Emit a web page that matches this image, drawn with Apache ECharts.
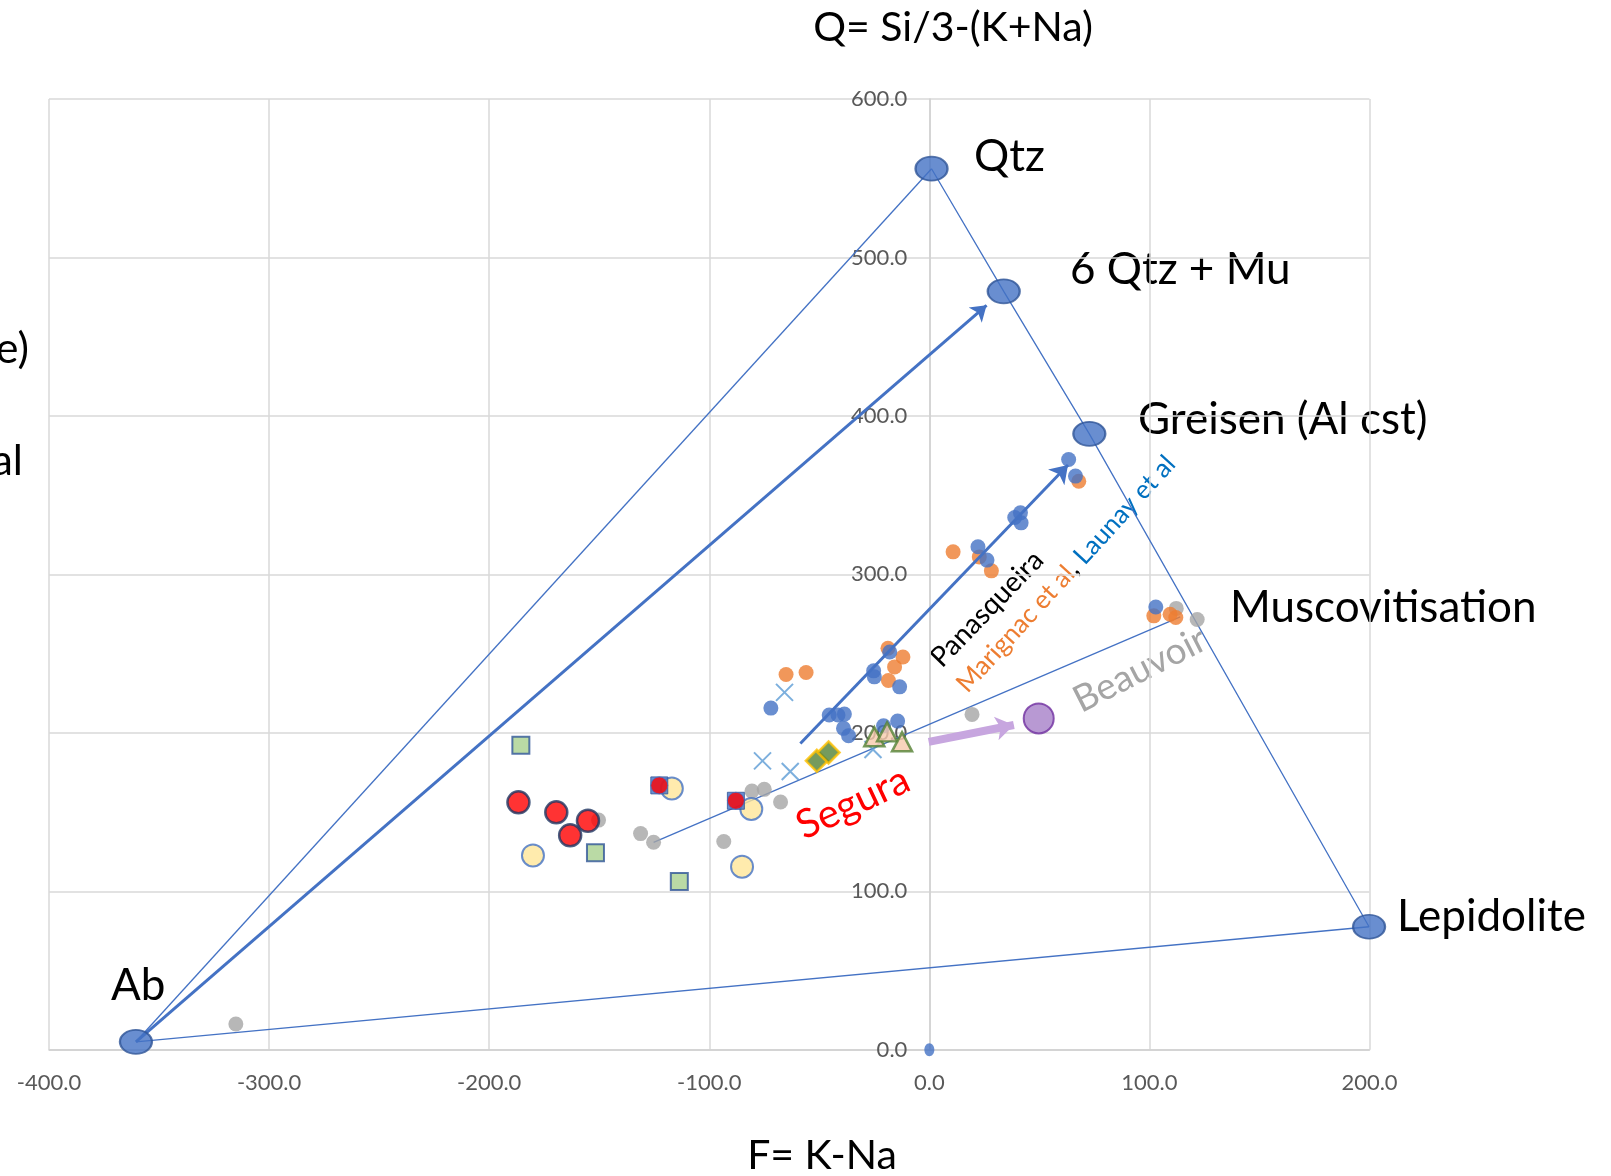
<!DOCTYPE html>
<html>
<head>
<meta charset="utf-8">
<title>Q-F diagram</title>
<script src="https://cdn.jsdelivr.net/npm/echarts@6/dist/echarts.min.js"></script>
<style>
  html, body { margin: 0; padding: 0; background: #ffffff; }
  #chart { width: 1611px; height: 1176px; }
</style>
</head>
<body>
<div id="chart"></div>
<script>
// ---- axis ticks ----
const xTicks = [-400, -300, -200, -100, 0, 100, 200];
const yTicks = [0, 100, 200, 300, 400, 500, 600];

// ---- reference minerals (F, Q) ----
const mineralNames = ['Ab', 'Qtz', '6 Qtz + Mu', 'Greisen (Al cst)', 'Lepidolite'];
const mineralPoints = [[-360.5, 5], [1, 556], [33.8, 478.6], [72.7, 388.7], [199.8, 77.6]];

// ---- Panasqueira (Launay et al) ----
const launayPoints = [
  [-72, 215.6], [-45.5, 211.2], [-41.5, 211.2], [-38.6, 211.8], [-39, 202.8], [-36.7, 198.1],
  [-20.8, 204.4], [-14.4, 207.4], [-25.3, 239.1], [-25, 235.3], [-13.5, 229], [-18, 251],
  [22.1, 317.4], [26.2, 309], [38.8, 335.9], [41.4, 338.8], [41.7, 332.5],
  [63.3, 372.5], [66.4, 362], [102.9, 279.4]
];
const originPoint = [[0, 0]];

// ---- Panasqueira (Marignac et al) ----
const marignacPoints = [
  [-65.1, 236.8], [-56, 238.1], [-18.8, 253.4], [-12, 247.8], [-15.8, 241.6], [-18.6, 233],
  [10.8, 314.2], [22.7, 311], [28.2, 302.2], [67.9, 358.8], [102, 273.8], [109.4, 274.8], [112, 272.8]
];

// ---- Beauvoir ----
const beauvoirPoints = [
  [-315.1, 16.2], [-150.3, 144.9], [-131.2, 136.4], [-125.3, 130.9], [-93.4, 131.4],
  [-80.6, 163.2], [-75, 164.3], [-67.6, 156.3], [19.4, 211.6], [112.2, 278.5], [121.7, 271.5]
];

// ---- Segura ----
const seguraRed = [[-186.7, 156.1], [-169.5, 149.8], [-155.1, 144.5], [-163.2, 135.3]];
const seguraRedOnSquare = [[-122.7, 166.8], [-87.9, 157.1]];
const yellowPoints = [[-180.1, 122.6], [-117, 164.9], [-80.9, 151.9], [-85.1, 115.5]];
const greenSquares = [[-185.6, 192.2], [-151.7, 124.3], [-113.6, 106.2]];
const crossPoints = [[-65.8, 225.5], [-75.8, 182.3], [-63.2, 175.6], [-25.6, 189.5]];
const diamondPoints = [[-51.1, 182.3], [-45.8, 187.6]];
const trianglePoints = [[-25, 197.5], [-19.2, 200.6], [-12.4, 194.3]];
const purplePoint = [[49.7, 209.1]];

// ---- trends ----
const abToQtzMu = [[-360.5, 5], [26, 469.8]];
const panasqueiraTrend = [[-58.6, 193.3], [63, 369]];
const beauvoirTrend = [[-125.3, 130.9], [114, 273.2]];
const purpleShift = [[-0.3, 194.3], [38.4, 204.9]];

const BLUE = '#4472c4';
const ELLIPSE = 'path://M0,100 C0,44.77 44.77,0 100,0 C155.23,0 200,44.77 200,100 C200,155.23 155.23,200 100,200 C44.77,200 0,155.23 0,100 Z';
const FONT = 'Lato, "Open Sans", sans-serif';

// plot area and x range; the Q axis is drawn through F = 0
const W = 1611, GRID_LEFT = 49, GRID_RIGHT = 241.5;
const X_MIN = -400, X_MAX = 200;
const yAxisShift = (0 - X_MIN) / (X_MAX - X_MIN) * (W - GRID_LEFT - GRID_RIGHT);

const chart = echarts.init(document.getElementById('chart'), null, { renderer: 'canvas' });

function scatter(data, symbol, size, style, z) {
  return {
    type: 'scatter', data: data, symbol: symbol, symbolSize: size,
    itemStyle: style, z: z || 3, silent: true
  };
}

const option = {
  animation: false,
  backgroundColor: '#ffffff',
  grid: { left: GRID_LEFT, right: GRID_RIGHT, top: 99, bottom: 126.3, containLabel: false, outerBoundsMode: 'none' },
  xAxis: {
    type: 'value', min: X_MIN, max: X_MAX, interval: 100,
    axisLine: { show: true, onZero: false, lineStyle: { color: '#d0d0d0', width: 1.5 } },
    axisTick: { show: false },
    splitLine: { show: true, lineStyle: { color: '#d9d9d9', width: 1.5 } },
    axisLabel: {
      color: '#595959', fontSize: 22, fontFamily: FONT, margin: 22,
      formatter: v => xTicks.includes(v) ? v.toFixed(1) : ''
    }
  },
  yAxis: {
    type: 'value', min: 0, max: 600, interval: 100,
    position: 'left', offset: -yAxisShift,
    axisLine: { show: true, onZero: false, lineStyle: { color: '#d0d0d0', width: 1.5 } },
    axisTick: { show: false },
    splitLine: { show: true, lineStyle: { color: '#d9d9d9', width: 1.5 } },
    axisLabel: {
      color: '#595959', fontSize: 22, fontFamily: FONT, margin: 22,
      formatter: v => yTicks.includes(v) ? v.toFixed(1) : ''
    }
  },
  series: [
    // triangle and tie lines
    { type: 'line', data: [mineralPoints[0], mineralPoints[1]], symbol: 'none',
      lineStyle: { color: BLUE, width: 1.3 }, z: 2, silent: true },
    { type: 'line', data: mineralPoints.slice(1), symbol: 'none',
      lineStyle: { color: BLUE, width: 1.3 }, z: 2, silent: true },
    { type: 'line', data: [mineralPoints[0], mineralPoints[4]], symbol: 'none',
      lineStyle: { color: BLUE, width: 1.3 }, z: 2, silent: true },
    { type: 'line', data: beauvoirTrend, symbol: 'none',
      lineStyle: { color: BLUE, width: 1.3 }, z: 2, silent: true },
    // trend arrows
    { type: 'lines', coordinateSystem: 'cartesian2d', symbol: ['none', 'arrow'], symbolSize: 15,
      data: [{ coords: abToQtzMu }], lineStyle: { color: BLUE, width: 3, opacity: 1 }, z: 2, silent: true },
    { type: 'lines', coordinateSystem: 'cartesian2d', symbol: ['none', 'arrow'], symbolSize: 17,
      data: [{ coords: panasqueiraTrend }], lineStyle: { color: BLUE, width: 3, opacity: 1 }, z: 4, silent: true },
    { type: 'lines', coordinateSystem: 'cartesian2d', symbol: ['none', 'arrow'], symbolSize: 18,
      data: [{ coords: purpleShift }], lineStyle: { color: '#c7a6df', width: 8, opacity: 1 }, z: 2, silent: true },

    // samples
    scatter(beauvoirPoints, 'circle', 15, { color: '#a5a5a5' }),
    scatter(marignacPoints, 'circle', 15, { color: '#ed7d31' }),
    scatter(launayPoints, 'circle', 15, { color: BLUE }),
    scatter(originPoint, ELLIPSE, [10, 13], { color: BLUE }),
    scatter(greenSquares, 'rect', 17, { color: '#a9d18e', borderColor: '#2f5597', borderWidth: 2 }),
    scatter(yellowPoints, 'circle', 22, { color: '#ffe699', borderColor: BLUE, borderWidth: 2 }, 4),
    scatter(seguraRedOnSquare, 'rect', 17, { color: BLUE, borderColor: '#2f5597', borderWidth: 1 }, 5),
    scatter(seguraRedOnSquare, 'circle', 17, { color: '#ff0000', borderColor: BLUE, borderWidth: 1 }, 6),
    scatter(seguraRed, 'circle', 22, { color: '#ff0000', borderColor: '#1f3864', borderWidth: 2.5 }, 6),
    scatter(crossPoints, 'path://M0,0 L10,10 M10,0 L0,10', 17, { color: 'none', borderColor: '#5b9bd5', borderWidth: 2 }, 5),
    scatter(diamondPoints, 'diamond', [22, 22], { color: '#548235', borderColor: '#ffc000', borderWidth: 2.5 }, 5),
    scatter(trianglePoints, 'triangle', [20, 19], { color: '#f8cbad', borderColor: '#548235', borderWidth: 2.5 }, 5),
    scatter(purplePoint, 'circle', 30, { color: '#a680c8', borderColor: '#7030a0', borderWidth: 2 }, 5),

    // reference minerals
    {
      type: 'scatter', data: mineralPoints.map((p, i) => ({ name: mineralNames[i], value: p })),
      symbol: ELLIPSE, symbolSize: [32, 24],
      itemStyle: { color: BLUE, borderColor: '#2f5597', borderWidth: 2 }, z: 7, silent: true
    }
  ],
  graphic: [
    // axis titles
    { type: 'text', x: 953, y: 28, style: { text: 'Q= Si/3-(K+Na)', font: '41px ' + FONT, fill: '#000', align: 'center', verticalAlign: 'middle' } },
    { type: 'text', x: 822, y: 1156, style: { text: 'F= K-Na', font: '41px ' + FONT, fill: '#000', align: 'center', verticalAlign: 'middle' } },
    { type: 'text', x: 29, y: 349, style: { text: 'e)', font: '43px ' + FONT, fill: '#000', align: 'right', verticalAlign: 'middle' } },
    { type: 'text', x: 23, y: 461, style: { text: 'al', font: '43px ' + FONT, fill: '#000', align: 'right', verticalAlign: 'middle' } },

    // mineral labels
    { type: 'text', x: 974, y: 157, style: { text: 'Qtz', font: '44px ' + FONT, fill: '#000', align: 'left', verticalAlign: 'middle' } },
    { type: 'text', x: 1070, y: 270, style: { text: '6 Qtz + Mu', font: '44px ' + FONT, fill: '#000', align: 'left', verticalAlign: 'middle' } },
    { type: 'text', x: 1138, y: 420, style: { text: 'Greisen (Al cst)', font: '44px ' + FONT, fill: '#000', align: 'left', verticalAlign: 'middle' } },
    { type: 'text', x: 1230, y: 608, style: { text: 'Muscovitisation', font: '44px ' + FONT, fill: '#000', align: 'left', verticalAlign: 'middle' } },
    { type: 'text', x: 1397, y: 917, style: { text: 'Lepidolite', font: '44px ' + FONT, fill: '#000', align: 'left', verticalAlign: 'middle' } },
    { type: 'text', x: 111, y: 986, style: { text: 'Ab', font: '44px ' + FONT, fill: '#000', align: 'left', verticalAlign: 'middle' } },

    // trend labels
    { type: 'text', x: 987, y: 609, rotation: 46 * Math.PI / 180,
      style: { text: 'Panasqueira', font: '28px ' + FONT, fill: '#000', align: 'center', verticalAlign: 'middle' } },
    { type: 'text', x: 1066, y: 574, rotation: 47.5 * Math.PI / 180,
      style: {
        text: '{o|Marignac et al}{k|, }{b|Launay et al}', align: 'center', verticalAlign: 'middle',
        rich: {
          o: { fill: '#ed7d31', font: '26px ' + FONT },
          k: { fill: '#000000', font: '26px ' + FONT },
          b: { fill: '#0070c0', font: '26px ' + FONT }
        }
      } },
    { type: 'text', x: 1140, y: 670, rotation: 27 * Math.PI / 180,
      style: { text: 'Beauvoir', font: '37px ' + FONT, fill: '#a5a5a5', align: 'center', verticalAlign: 'middle' } },
    { type: 'text', x: 853, y: 803, rotation: 25 * Math.PI / 180,
      style: { text: 'Segura', font: '40px ' + FONT, fill: '#ff0000', align: 'center', verticalAlign: 'middle' } }
  ]
};

chart.setOption(option);
</script>
</body>
</html>
